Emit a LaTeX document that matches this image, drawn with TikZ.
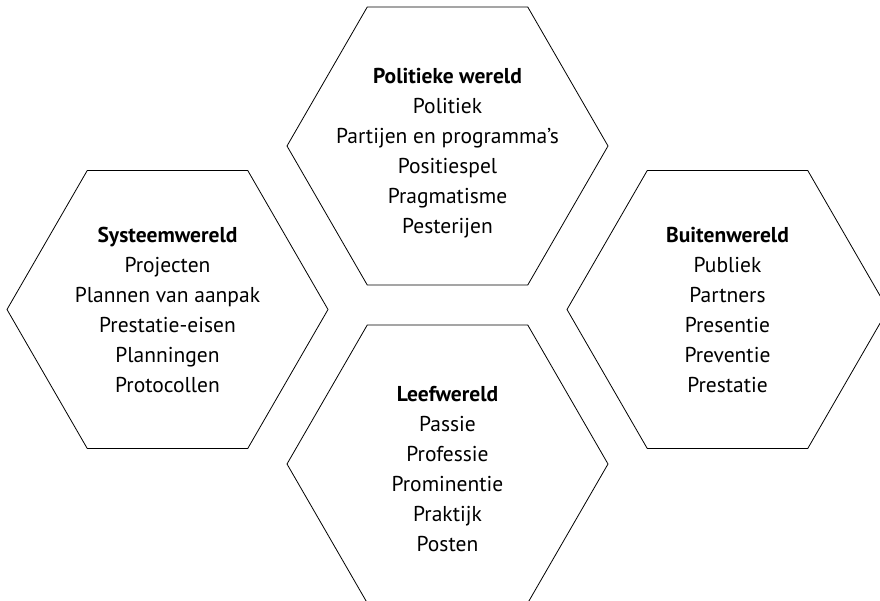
\documentclass[tikz,border=0pt]{standalone}
\usepackage{fontspec}
\setmainfont{PT Sans}
\usetikzlibrary{shapes.geometric}

\tikzset{
  hexa/.style={draw, line width=0.8pt, shape=regular polygon, regular polygon sides=6,
    minimum size=321pt, inner sep=0pt},
  wereld/.style={align=center, inner sep=0pt, font=\fontsize{21.5}{30}\selectfont},
}

\begin{document}
\begin{tikzpicture}[x=1pt, y=-1pt]
  \useasboundingbox (0,0) rectangle (880,601);
  \clip (0,0) rectangle (880,601);

  % de vier werelden
  \node (politiek) [hexa] at (447.5,146) {};
  \node (systeem)  [hexa] at (167.5,309.5) {};
  \node (buiten)   [hexa] at (727.5,309.5) {};
  \node (leef)     [hexa] at (447.5,464) {};

  \node (politiek-tekst) [wereld, yshift=-7pt] at (politiek) {\textbf{Politieke wereld}\\Politiek\\Partijen en programma’s\\Positiespel\\Pragmatisme\\Pesterijen};
  \node (systeem-tekst) [wereld] at (systeem) {\textbf{Systeemwereld}\\Projecten\\Plannen van aanpak\\Prestatie-eisen\\Planningen\\Protocollen};
  \node (buiten-tekst) [wereld] at (buiten) {\textbf{Buitenwereld}\\Publiek\\Partners\\Presentie\\Preventie\\Prestatie};
  \node (leef-tekst) [wereld, yshift=-5pt] at (leef) {\textbf{Leefwereld}\\Passie\\Professie\\Prominentie\\Praktijk\\Posten};
\end{tikzpicture}
\end{document}
